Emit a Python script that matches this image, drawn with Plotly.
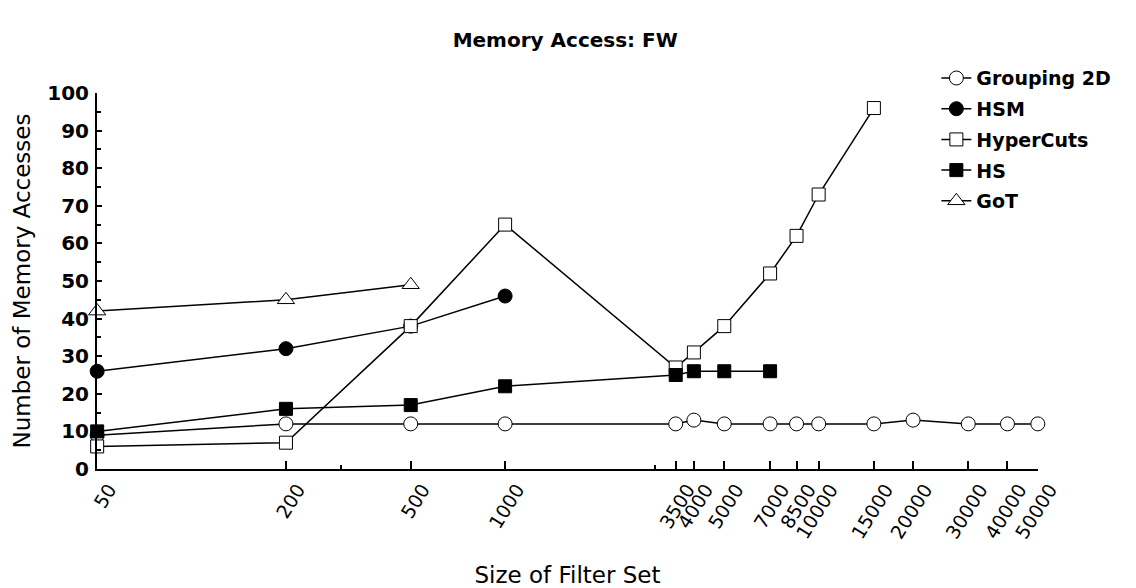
import math
import plotly.graph_objects as go

# Data
g2d_x = [50, 200, 500, 1000, 3500, 4000, 5000, 7000, 8500, 10000, 15000, 20000, 30000, 40000, 50000]
g2d_y = [9, 12, 12, 12, 12, 13, 12, 12, 12, 12, 12, 13, 12, 12, 12]

hsm_x = [50, 200, 500, 1000]
hsm_y = [26, 32, 38, 46]

hc_x = [50, 200, 500, 1000, 3500, 4000, 5000, 7000, 8500, 10000, 15000]
hc_y = [6, 7, 38, 65, 27, 31, 38, 52, 62, 73, 96]

hs_x = [50, 200, 500, 1000, 3500, 4000, 5000, 7000]
hs_y = [10, 16, 17, 22, 25, 26, 26, 26]

got_x = [50, 200, 500]
got_y = [42, 45, 49]

tick_vals = [50, 200, 500, 1000, 3500, 4000, 5000, 7000, 8500, 10000, 15000, 20000, 30000, 40000, 50000]
tick_text = [str(v) for v in tick_vals]
minor_vals = [300, 3000]

FONT = "DejaVu Sans"

fig = go.Figure()

def add(name, xs, ys, symbol, fill, size=14):
    fig.add_trace(go.Scatter(
        x=xs, y=ys, name=name, mode="lines+markers", legendgroup=name,
        line=dict(color="black", width=1.5),
        marker=dict(symbol=symbol, size=size, color=fill,
                    line=dict(color="black", width=1)),
        cliponaxis=False,
    ))

add("Grouping 2D", g2d_x, g2d_y, "circle", "white")
add("HSM", hsm_x, hsm_y, "circle", "black")
add("HyperCuts", hc_x, hc_y, "square", "white", 13)
add("HS", hs_x, hs_y, "square", "black", 13)
add("GoT", got_x, got_y, "triangle-up", "white", 15)

fig.update_layout(
    width=1128, height=580,
    paper_bgcolor="white", plot_bgcolor="white",
    margin=dict(l=89, r=98, t=85, b=119, autoexpand=False),
    title=dict(text="<b>Memory Access: FW</b>", x=0.494, xanchor="center",
               y=0.945, yanchor="middle",
               font=dict(family=FONT, size=20, color="black")),
    legend=dict(x=0.892, y=1.09, xanchor="left", yanchor="top",
                font=dict(family=FONT, size=19, color="black", weight="bold"),
                bgcolor="rgba(0,0,0,0)", tracegroupgap=3, traceorder="grouped",
                itemwidth=30),
    showlegend=True,
)

lo = math.log10(50)
hi = math.log10(50000)
fig.update_xaxes(
    type="log", range=[lo - 0.0005, hi + 0.0005],
    tickmode="array", tickvals=tick_vals, ticktext=tick_text,
    tickangle=-58, ticks="inside", ticklen=8, tickcolor="black", tickwidth=1.5,
    ticklabelshift=12,
    minor=dict(tickmode="array", tickvals=minor_vals, ticks="inside", ticklen=4,
               tickcolor="black", showgrid=False),
    showline=True, linecolor="black", linewidth=2, showgrid=False, zeroline=False,
    tickfont=dict(family=FONT, size=19, color="black"),
    title=dict(text="Size of Filter Set", font=dict(family=FONT, size=23, color="black"),
               standoff=26),
    automargin=False,
)

fig.update_yaxes(
    range=[0, 100], tickmode="linear", tick0=0, dtick=10,
    ticks="inside", ticklen=5, tickcolor="black", tickwidth=1.5,
    ticklabelstandoff=2,
    minor=dict(tick0=0, dtick=5, ticks="inside", ticklen=4, tickcolor="black", showgrid=False),
    showline=True, linecolor="black", linewidth=2, showgrid=False, zeroline=False,
    tickfont=dict(family=FONT, size=20, color="black", weight="bold"),
    title=dict(text="Number of Memory Accesses", font=dict(family=FONT, size=23, color="black"),
               standoff=10),
    automargin=False,
)

fig.write_html("out.html")
